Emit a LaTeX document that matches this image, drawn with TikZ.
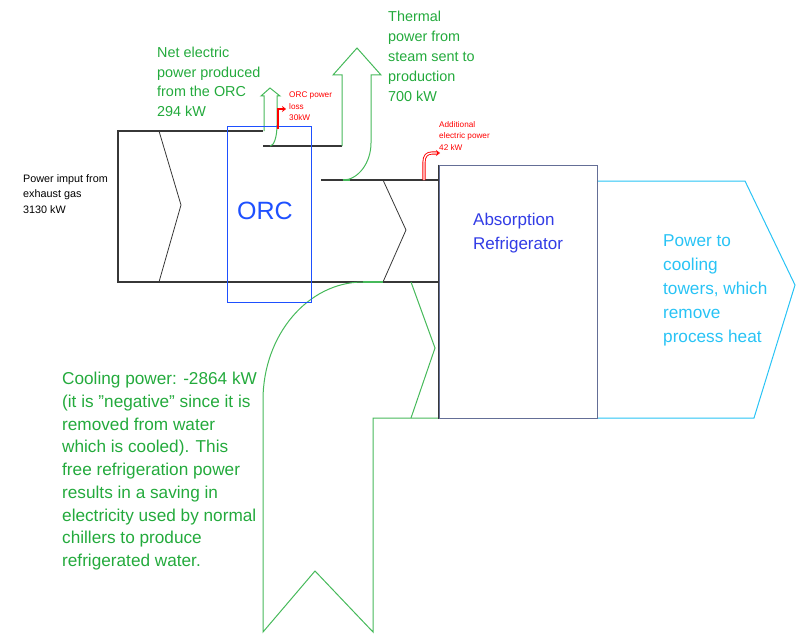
\documentclass[tikz,border=0pt]{standalone}
\usepackage{fontspec}
\setmainfont{Liberation Sans}
\usetikzlibrary{arrows.meta}
\definecolor{gtext}{RGB}{35,170,60}
\definecolor{gline}{RGB}{70,185,90}
\definecolor{orcblue}{RGB}{30,80,255}
\definecolor{absline}{RGB}{100,110,150}
\definecolor{abstext}{RGB}{50,60,230}
\definecolor{cyanc}{RGB}{40,195,245}
\definecolor{darkl}{RGB}{55,55,55}
\tikzset{
  flow/.style={draw=darkl, line width=1.2pt},
  chev/.style={draw=darkl, line width=0.8pt},
  garrow/.style={draw=gline, line width=1pt},
  lbl/.style={anchor=north west, inner sep=0pt, align=left},
}
\newcommand{\fs}[2]{\fontsize{#1}{#2}\selectfont}
\begin{document}
\begin{tikzpicture}[x=1pt,y=-1pt]
\useasboundingbox (0,0) rectangle (796,634);
% main flow outlines
\draw[flow] (263,131) -- (118,131) -- (118,282) -- (439,282);
\draw[flow] (263,146) -- (342,146);
\draw[flow] (321,180) -- (439,180);
\draw[chev] (159,131) -- (181,205) -- (159,282);
\draw[chev] (383,180) -- (406,230) -- (383,282);
% net electric arrow
\draw[garrow] (264,131) -- (264,96) -- (261,96) -- (270,88) -- (280,96) -- (277,96) -- (277,125)
  .. controls (277,137) and (274,146) .. (270,146);
% thermal steam arrow
\draw[garrow] (342,146) -- (342,75) -- (333,75) -- (357,48) -- (381,75) -- (371,75) -- (371,143)
  .. controls (371,163) and (358,180) .. (343,180);
\draw[draw=gline, line width=1.5pt] (343,180) -- (350,180);
% cooling arrow
\draw[garrow] (363,282) .. controls (308,282) and (263,335) .. (263,400) -- (263,632)
  -- (315,571) -- (373,632) -- (373,418) -- (439,418);
\draw[draw=gline, line width=1.5pt] (363,282) -- (383,282);
\draw[garrow] (411,282) -- (435,348) -- (411,418);
% ORC box
\node[draw=orcblue, line width=1pt, minimum width=84pt, minimum height=176pt, inner sep=0pt] (orc) at (269,214) {};
\node[text=orcblue, font=\fs{25}{30}] (orct) at (265,211) {ORC};
% red arrows
\draw[red, line width=2.6pt, -{Stealth[length=4pt,width=6pt]}] (278,129) -- (278,109) -- (286,109);
\draw[red, double=white, double distance=1.3pt, line width=0.9pt, -{Stealth[length=4pt,width=6pt,fill=white]}] (424,180) -- (424,162) .. controls (424,156) and (427,153) .. (432,153) -- (440,153);
% absorption refrigerator
\draw[cyanc, line width=1pt] (597,181) -- (745,181) -- (795,285) -- (754,418) -- (597,418);
\node[draw=absline, fill=white, line width=1pt, minimum width=158pt, minimum height=253pt, inner sep=0pt] (abs) at (518,291.5) {};
\draw[darkl, line width=1.2pt] (abs.north west) -- (abs.south west);
% texts
\node[lbl, text=gtext, font=\fs{14.4}{19.6}] (net) at (157,47) {Net electric\\power produced\\from the ORC\\294 kW};
\node[lbl, text=gtext, font=\fs{14.4}{20}] (therm) at (388,11) {Thermal\\power from\\steam sent to\\production\\700 kW};
\node[lbl, text=black, font=\fs{10.8}{15.5}] (inp) at (23,174) {Power imput from\\exhaust gas\\3130 kW};
\node[lbl, text=red, font=\fs{8.2}{11.5}] (loss) at (289,92) {ORC power\\loss\\30kW};
\node[lbl, text=red, font=\fs{8.2}{11.5}] (add) at (439,121) {Additional\\electric power\\42 kW};
\node[lbl, text=gtext, font=\fs{17.2}{22.75}] (cool) at (62,372) {Cooling power: -2864 kW\\(it is \char34 negative\char34\ since it is\\removed from water\\which is cooled). This\\free refrigeration power\\results in a saving in\\electricity used by normal\\chillers to produce\\refrigerated water.};
\node[lbl, text=abstext, font=\fs{17}{23.5}] (abst) at (473,213) {Absorption\\Refrigerator};
\node[lbl, text=cyanc, font=\fs{17.2}{24}] (tow) at (663,234) {Power to\\cooling\\towers, which\\remove\\process heat};
\end{tikzpicture}
\end{document}
